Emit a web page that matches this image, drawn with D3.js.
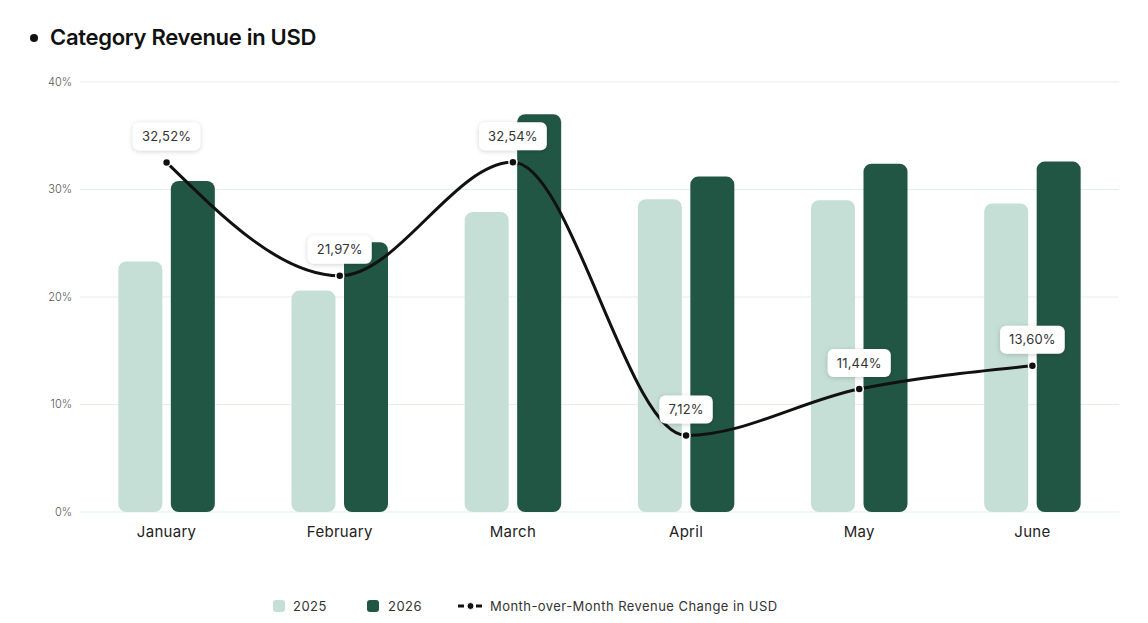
<!DOCTYPE html>
<html>
<head>
<meta charset="utf-8">
<script src="https://cdn.jsdelivr.net/npm/d3@7"></script>
<style>
  body { margin: 0; background: #fff; }
  text { font-family: Inter, sans-serif; }
</style>
</head>
<body>
<div id="chart-area"></div>
<script>
// data
var months = ["January", "February", "March", "April", "May", "June"];
var rev2025 = [23.3, 20.6, 27.9, 29.1, 29.0, 28.7];
var rev2026 = [30.8, 25.1, 37.0, 31.2, 32.4, 32.6];
var momChange = [32.52, 21.97, 32.54, 7.12, 11.44, 13.60];
var yTicks = [0, 10, 20, 30, 40];

var W = 1148, H = 623;
var margin = { left: 80, right: 29, top: 82, bottom: 111 };
var width = W - margin.left - margin.right,
  height = H - margin.top - margin.bottom;

var light = "#c5dfd6", dark = "#215645";

var svg = d3.select("#chart-area")
  .append("svg")
  .attr("width", W)
  .attr("height", H);

// drop shadow for value labels
var defs = svg.append("defs");
var f = defs.append("filter").attr("id", "shadow")
  .attr("x", "-30%").attr("y", "-40%").attr("width", "160%").attr("height", "200%");
f.append("feDropShadow").attr("dx", 0).attr("dy", 1).attr("stdDeviation", 2.5)
  .attr("flood-color", "#000").attr("flood-opacity", 0.18);

// title
svg.append("circle").attr("cx", 34).attr("cy", 38).attr("r", 4).attr("fill", "#111");
svg.append("text")
  .attr("x", 50).attr("y", 45)
  .style("font-size", "22px")
  .style("font-weight", 600)
  .style("letter-spacing", "-0.3px")
  .attr("fill", "#111")
  .text("Category Revenue in USD");

var g = svg.append("g")
  .attr("transform", "translate(" + margin.left + "," + margin.top + ")");

// scales
var x = d3.scaleBand().domain(months).range([0, width]);
var y = d3.scaleLinear().domain([0, 40]).range([height, 0]);

// grid
g.selectAll(".grid").data(yTicks).enter().append("line")
  .attr("x1", 0).attr("x2", width)
  .attr("y1", function (d) { return y(d); })
  .attr("y2", function (d) { return y(d); })
  .attr("stroke", "#e2f1e5").attr("stroke-width", 1);

g.selectAll(".ytick").data(yTicks).enter().append("text")
  .attr("x", -8)
  .attr("y", function (d) { return y(d); })
  .attr("dy", "0.35em")
  .attr("text-anchor", "end")
  .style("font-size", "11px")
  .style("font-weight", 300)
  .attr("fill", "#555")
  .text(function (d) { return d + "%"; });

// x labels
g.selectAll(".xtick").data(months).enter().append("text")
  .attr("x", function (d) { return x(d) + x.bandwidth() / 2; })
  .attr("y", height + 20)
  .attr("dy", "0.35em")
  .attr("text-anchor", "middle")
  .style("font-size", "15px")
  .style("font-weight", 400)
  .style("letter-spacing", "0.3px")
  .attr("fill", "#222")
  .text(function (d) { return d; });

// bars
var barW = 44, gap = 8.5;
function bars(values, color, offset) {
  g.selectAll(null).data(values).enter().append("rect")
    .attr("x", function (d, i) { return x(months[i]) + x.bandwidth() / 2 + offset; })
    .attr("y", function (d) { return y(d); })
    .attr("width", barW)
    .attr("height", function (d) { return height - y(d); })
    .attr("rx", 8).attr("ry", 8)
    .attr("fill", color);
}
bars(rev2025, light, -barW - gap / 2);
bars(rev2026, dark, gap / 2);

// line
var cx = function (d, i) { return x(months[i]) + x.bandwidth() / 2; };
var line = d3.line()
  .x(cx)
  .y(function (d) { return y(d); })
  .curve(d3.curveMonotoneX);

g.append("path")
  .datum(momChange)
  .attr("d", line)
  .attr("fill", "none")
  .attr("stroke", "#111")
  .attr("stroke-width", 3);

g.selectAll(".dot").data(momChange).enter().append("circle")
  .attr("cx", cx)
  .attr("cy", function (d) { return y(d); })
  .attr("r", 4)
  .attr("fill", "#111")
  .attr("stroke", "#fff")
  .attr("stroke-width", 1.5);

// value labels
var fmt = function (d) { return d.toFixed(2).replace(".", ",") + "%"; };
var lab = g.selectAll(".lab").data(momChange).enter().append("g")
  .attr("transform", function (d, i) { return "translate(" + cx(d, i) + "," + (y(d) - 26) + ")"; });
lab.append("text")
  .attr("text-anchor", "middle")
  .attr("dy", "0.35em")
  .style("font-size", "13px")
  .style("font-weight", 400)
  .style("letter-spacing", "0.2px")
  .attr("fill", "#333")
  .text(fmt)
  .each(function () {
    var bb = this.getBBox();
    d3.select(this.parentNode).insert("rect", "text")
      .attr("x", bb.x - 9).attr("y", -14)
      .attr("width", bb.width + 18).attr("height", 28)
      .attr("rx", 6).attr("ry", 6)
      .attr("fill", "#fff")
      .attr("filter", "url(#shadow)");
  });

// legend
var leg = svg.append("g").attr("transform", "translate(0,606)")
  .style("font-size", "13px").style("letter-spacing", "0.45px");
leg.append("rect").attr("x", 273).attr("y", -6).attr("width", 12).attr("height", 12)
  .attr("rx", 3).attr("fill", light);
leg.append("text").attr("x", 293).attr("dy", "0.35em")
  .attr("fill", "#333").text("2025");
leg.append("rect").attr("x", 367).attr("y", -6).attr("width", 12).attr("height", 12)
  .attr("rx", 3).attr("fill", dark);
leg.append("text").attr("x", 388).attr("dy", "0.35em")
  .attr("fill", "#333").text("2026");
leg.append("line").attr("x1", 458).attr("x2", 483).attr("y1", 0).attr("y2", 0)
  .attr("stroke", "#111").attr("stroke-width", 3).attr("stroke-dasharray", "6,3");
leg.append("circle").attr("cx", 470.5).attr("cy", 0).attr("r", 3.5).attr("fill", "#111")
  .attr("stroke", "#fff").attr("stroke-width", 1);
leg.append("text").attr("x", 490).attr("dy", "0.35em")
  .attr("fill", "#333").text("Month-over-Month Revenue Change in USD");
</script>
</body>
</html>
